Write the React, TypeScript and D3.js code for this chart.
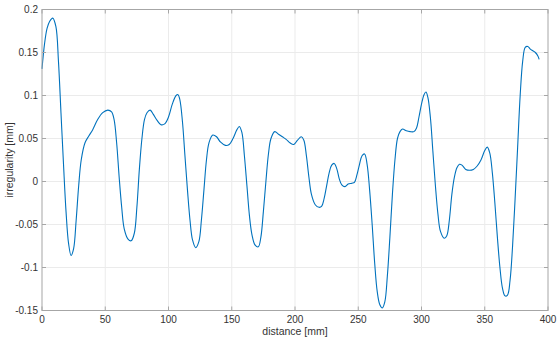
import { useEffect, useRef } from "react";
import * as d3 from "d3";

// distance along track [mm]
const distance = [
  0, 2, 4, 6, 8.5, 11, 13, 15, 17, 19, 21, 23, 25, 27, 29, 31, 34, 37, 40, 44, 48, 52, 55, 57, 59, 61, 63,
  65, 68, 70.5, 73, 75, 77, 79, 81, 83, 85.5, 88, 91, 94, 97, 100, 103, 106, 107.5, 109, 111, 113, 115,
  117, 119, 121.5, 124, 126, 128, 130, 132, 135, 138, 141, 145, 148, 151, 154, 156, 158, 160, 162, 164,
  166, 168.5, 171, 173, 175, 177, 179, 181, 184, 187, 190, 193, 196, 199, 202, 205, 207, 209, 211, 213,
  216, 219, 221, 223, 225, 227, 229, 231, 233, 235, 237, 239.5, 242, 245, 247, 249, 251, 253, 255, 257,
  259, 261, 263, 265, 267, 269, 271, 273, 275, 277, 279, 281, 283, 285, 288, 291, 294, 296, 298, 300,
  302, 303.5, 305, 307, 309, 311, 313, 315, 318, 320, 322, 324, 326, 328, 330, 332, 335, 338, 341, 344,
  347, 350, 352, 354, 356, 358, 360, 362, 364, 366, 368, 370, 372, 374, 376, 378, 380, 382, 384, 386,
  388, 390, 392, 393,
];

// irregularity [mm]
const irregularity = [
  0.131, 0.16, 0.178, 0.186, 0.19, 0.18, 0.14, 0.08, 0.02, -0.035, -0.072, -0.086, -0.078, -0.045, -0.005,
  0.025, 0.045, 0.053, 0.06, 0.072, 0.08, 0.083, 0.081, 0.072, 0.045, 0.005, -0.03, -0.055, -0.067, -0.069,
  -0.06, -0.03, 0.015, 0.05, 0.072, 0.08, 0.083, 0.078, 0.071, 0.066, 0.067, 0.075, 0.09, 0.1, 0.101,
  0.095, 0.07, 0.03, -0.01, -0.045, -0.068, -0.077, -0.07, -0.045, -0.01, 0.025, 0.045, 0.054, 0.052,
  0.046, 0.042, 0.043, 0.05, 0.06, 0.064, 0.057, 0.03, -0.005, -0.04, -0.062, -0.074, -0.076, -0.065,
  -0.035, 0.0, 0.032, 0.05, 0.058, 0.055, 0.052, 0.049, 0.045, 0.043, 0.048, 0.052, 0.048, 0.03, 0.005,
  -0.015, -0.027, -0.03, -0.029, -0.02, -0.005, 0.01, 0.019, 0.021, 0.015, 0.003, -0.004, -0.006, -0.003,
  -0.002, -0.001, 0.008, 0.02, 0.03, 0.032, 0.02, -0.01, -0.05, -0.095, -0.128, -0.143, -0.147, -0.14,
  -0.11, -0.065, -0.015, 0.025, 0.05, 0.058, 0.061, 0.059, 0.058, 0.058, 0.062, 0.075, 0.09, 0.101, 0.104,
  0.098, 0.075, 0.035, -0.005, -0.038, -0.058, -0.066, -0.063, -0.045, -0.015, 0.005, 0.016, 0.02, 0.019,
  0.014, 0.013, 0.014, 0.018, 0.025, 0.036, 0.04, 0.033, 0.01, -0.025, -0.065, -0.1, -0.124, -0.133,
  -0.132, -0.115, -0.075, -0.02, 0.04, 0.1, 0.14, 0.156, 0.157, 0.154, 0.152, 0.15, 0.146, 0.142,
];

const xTicks = [0, 50, 100, 150, 200, 250, 300, 350, 400];
const yTicks = [-0.15, -0.1, -0.05, 0, 0.05, 0.1, 0.15, 0.2];

export default function App() {
  const svgRef = useRef<SVGSVGElement>(null);

  useEffect(() => {
    if (!svgRef.current) return;
    const svg = d3.select(svgRef.current);
    svg.selectAll("*").remove();

    const width = 559;
    const height = 342;
    const margin = { top: 9.5, right: 11, bottom: 31.5, left: 42 };
    const innerW = width - margin.left - margin.right;
    const innerH = height - margin.top - margin.bottom;

    const x = d3.scaleLinear().domain([0, 400]).range([margin.left, margin.left + innerW]);
    const y = d3.scaleLinear().domain([-0.15, 0.2]).range([margin.top + innerH, margin.top]);

    const font = "Liberation Sans, Arial, sans-serif";
    const axisColor = "#a6a6a6";
    const textColor = "#333";

    // grid
    svg
      .append("g")
      .selectAll("line")
      .data(xTicks.slice(1, -1))
      .join("line")
      .attr("x1", (d) => x(d))
      .attr("x2", (d) => x(d))
      .attr("y1", y(-0.15))
      .attr("y2", y(0.2))
      .attr("stroke", "#ebebeb")
      .attr("stroke-width", 1);

    svg
      .append("g")
      .selectAll("line")
      .data(yTicks.slice(1, -1))
      .join("line")
      .attr("x1", x(0))
      .attr("x2", x(400))
      .attr("y1", (d) => y(d))
      .attr("y2", (d) => y(d))
      .attr("stroke", "#ebebeb")
      .attr("stroke-width", 1);

    // data line
    const pts = distance.map((d, i) => [d, irregularity[i]] as [number, number]);
    const line = d3
      .line<[number, number]>()
      .x((d) => x(d[0]))
      .y((d) => y(d[1]))
      .curve(d3.curveCatmullRom);

    svg
      .append("path")
      .datum(pts)
      .attr("d", line)
      .attr("fill", "none")
      .attr("stroke", "#0072BD")
      .attr("stroke-width", 1.1);

    // box
    svg
      .append("rect")
      .attr("x", x(0))
      .attr("y", y(0.2))
      .attr("width", x(400) - x(0))
      .attr("height", y(-0.15) - y(0.2))
      .attr("fill", "none")
      .attr("stroke", axisColor)
      .attr("stroke-width", 1);

    // inward ticks on all four sides
    const tk = 4;
    const ticks = svg.append("g").attr("stroke", axisColor).attr("stroke-width", 1);
    xTicks.forEach((t) => {
      ticks.append("line").attr("x1", x(t)).attr("x2", x(t)).attr("y1", y(-0.15)).attr("y2", y(-0.15) - tk);
      ticks.append("line").attr("x1", x(t)).attr("x2", x(t)).attr("y1", y(0.2)).attr("y2", y(0.2) + tk);
    });
    yTicks.forEach((t) => {
      ticks.append("line").attr("x1", x(0)).attr("x2", x(0) + tk).attr("y1", y(t)).attr("y2", y(t));
      ticks.append("line").attr("x1", x(400)).attr("x2", x(400) - tk).attr("y1", y(t)).attr("y2", y(t));
    });

    // tick labels
    svg
      .append("g")
      .selectAll("text")
      .data(xTicks)
      .join("text")
      .attr("x", (d) => x(d))
      .attr("y", y(-0.15) + 12.5)
      .attr("text-anchor", "middle")
      .attr("font-family", font)
      .attr("font-size", 10)
      .attr("fill", textColor)
      .text((d) => String(d));

    svg
      .append("g")
      .selectAll("text")
      .data(yTicks)
      .join("text")
      .attr("x", x(0) - 4)
      .attr("y", (d) => y(d) + 3.5)
      .attr("text-anchor", "end")
      .attr("font-family", font)
      .attr("font-size", 10)
      .attr("fill", textColor)
      .text((d) => String(d));

    // axis titles
    svg
      .append("text")
      .attr("x", (x(0) + x(400)) / 2)
      .attr("y", 335)
      .attr("text-anchor", "middle")
      .attr("font-family", font)
      .attr("font-size", 10.5)
      .attr("fill", textColor)
      .text("distance [mm]");

    svg
      .append("text")
      .attr("transform", `translate(13, ${(y(-0.15) + y(0.2)) / 2}) rotate(-90)`)
      .attr("text-anchor", "middle")
      .attr("font-family", font)
      .attr("font-size", 10.5)
      .attr("fill", textColor)
      .text("irregularity [mm]");
  }, []);

  return (
    <svg
      ref={svgRef}
      width={559}
      height={342}
      style={{ position: "absolute", left: 0, top: 0, background: "#fff" }}
    />
  );
}
